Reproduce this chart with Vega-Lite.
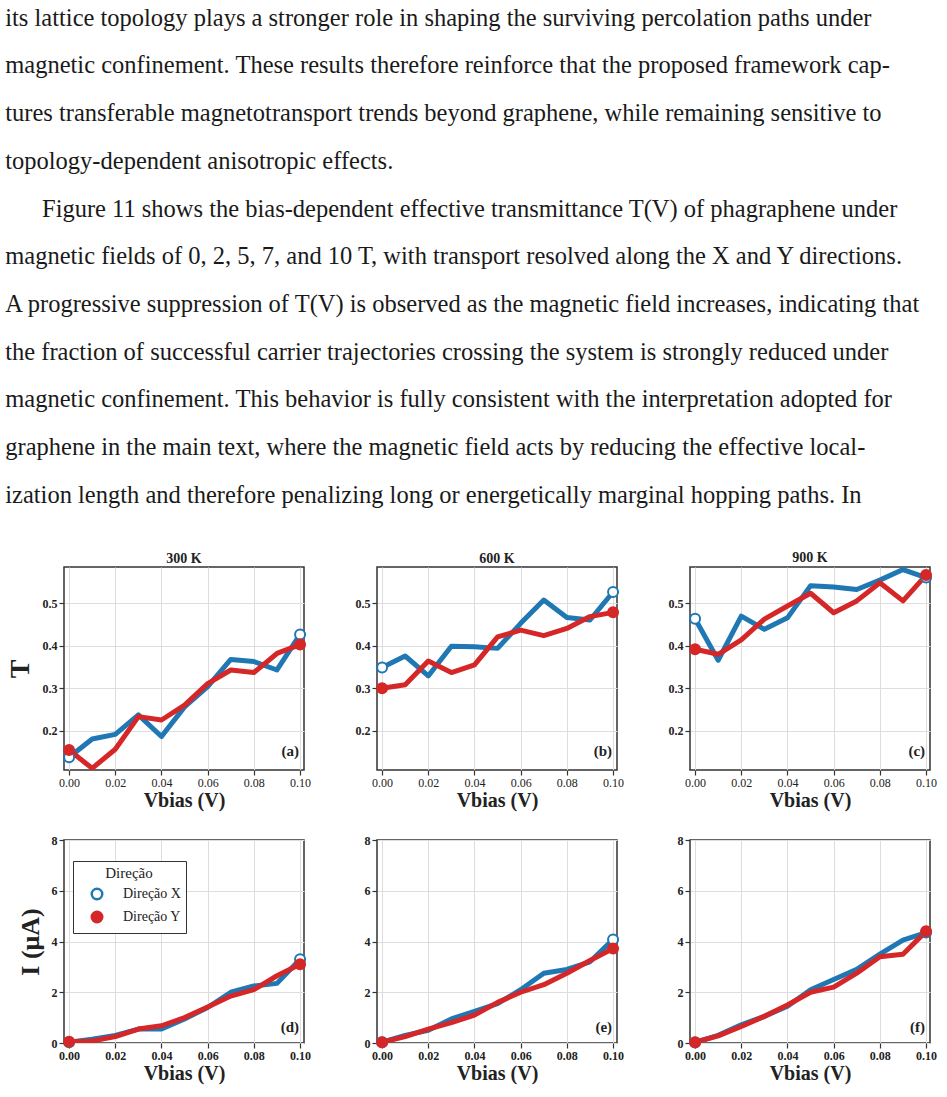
{
  "$schema": "https://vega.github.io/schema/vega-lite/v6.json",
  "background": "white",
  "padding": {"left": 5, "top": 5, "right": 5, "bottom": 5},
  "title": {
    "text": [
      "its lattice topology plays a stronger role in shaping the surviving percolation paths under",
      "magnetic confinement.  These results therefore reinforce that the proposed framework cap-",
      "tures transferable magnetotransport trends beyond graphene, while remaining sensitive to",
      "topology-dependent anisotropic effects.",
      "\u200b\u2003\u00a0\u00a0Figure 11 shows the bias-dependent effective transmittance T(V) of phagraphene under",
      "magnetic fields of 0, 2, 5, 7, and 10 T, with transport resolved along the X and Y directions.",
      "A progressive suppression of T(V) is observed as the magnetic field increases, indicating that",
      "the fraction of successful carrier trajectories crossing the system is strongly reduced under",
      "magnetic confinement. This behavior is fully consistent with the interpretation adopted for",
      "graphene in the main text, where the magnetic field acts by reducing the effective local-",
      "ization length and therefore penalizing long or energetically marginal hopping paths.  In"
    ],
    "anchor": "start",
    "frame": "bounds",
    "font": "Liberation Serif",
    "fontSize": 24.5,
    "fontWeight": "normal",
    "lineHeight": 47.7,
    "color": "#1a1a1a",
    "offset": 42
  },
  "config": {
    "font": "Liberation Serif",
    "view": {"stroke": "#333", "strokeWidth": 1.5},
    "axis": {
      "labelFont": "Liberation Serif",
      "titleFont": "Liberation Serif",
      "labelColor": "#222",
      "titleColor": "#222",
      "gridColor": "#dddddd",
      "gridWidth": 1,
      "domain": false,
      "tickColor": "#333",
      "tickSize": 5,
      "tickWidth": 1.2,
      "labelFontSize": 12,
      "labelFontWeight": "bold",
      "titleFontWeight": "bold",
      "labelPadding": 2
    },
    "title": {"font": "Liberation Serif", "fontSize": 14, "fontWeight": "bold", "color": "#222", "offset": 1},
    "legend": {"labelFont": "Liberation Serif", "titleFont": "Liberation Serif"}
  },
  "datasets": {
    "pts": [
      {"panel": "a", "dir": "Direção X", "v": 0, "val": 0.137},
      {"panel": "a", "dir": "Direção X", "v": 0.01, "val": 0.180},
      {"panel": "a", "dir": "Direção X", "v": 0.02, "val": 0.191},
      {"panel": "a", "dir": "Direção X", "v": 0.03, "val": 0.237},
      {"panel": "a", "dir": "Direção X", "v": 0.04, "val": 0.186},
      {"panel": "a", "dir": "Direção X", "v": 0.05, "val": 0.256},
      {"panel": "a", "dir": "Direção X", "v": 0.06, "val": 0.304},
      {"panel": "a", "dir": "Direção X", "v": 0.07, "val": 0.368},
      {"panel": "a", "dir": "Direção X", "v": 0.08, "val": 0.363},
      {"panel": "a", "dir": "Direção X", "v": 0.09, "val": 0.343},
      {"panel": "a", "dir": "Direção X", "v": 0.1, "val": 0.427},
      {"panel": "a", "dir": "Direção Y", "v": 0, "val": 0.154},
      {"panel": "a", "dir": "Direção Y", "v": 0.01, "val": 0.111},
      {"panel": "a", "dir": "Direção Y", "v": 0.02, "val": 0.156},
      {"panel": "a", "dir": "Direção Y", "v": 0.03, "val": 0.233},
      {"panel": "a", "dir": "Direção Y", "v": 0.04, "val": 0.225},
      {"panel": "a", "dir": "Direção Y", "v": 0.05, "val": 0.260},
      {"panel": "a", "dir": "Direção Y", "v": 0.06, "val": 0.311},
      {"panel": "a", "dir": "Direção Y", "v": 0.07, "val": 0.343},
      {"panel": "a", "dir": "Direção Y", "v": 0.08, "val": 0.337},
      {"panel": "a", "dir": "Direção Y", "v": 0.09, "val": 0.382},
      {"panel": "a", "dir": "Direção Y", "v": 0.1, "val": 0.403},
      {"panel": "b", "dir": "Direção X", "v": 0, "val": 0.349},
      {"panel": "b", "dir": "Direção X", "v": 0.01, "val": 0.376},
      {"panel": "b", "dir": "Direção X", "v": 0.02, "val": 0.329},
      {"panel": "b", "dir": "Direção X", "v": 0.03, "val": 0.399},
      {"panel": "b", "dir": "Direção X", "v": 0.04, "val": 0.398},
      {"panel": "b", "dir": "Direção X", "v": 0.05, "val": 0.394},
      {"panel": "b", "dir": "Direção X", "v": 0.06, "val": 0.453},
      {"panel": "b", "dir": "Direção X", "v": 0.07, "val": 0.508},
      {"panel": "b", "dir": "Direção X", "v": 0.08, "val": 0.467},
      {"panel": "b", "dir": "Direção X", "v": 0.09, "val": 0.461},
      {"panel": "b", "dir": "Direção X", "v": 0.1, "val": 0.527},
      {"panel": "b", "dir": "Direção Y", "v": 0, "val": 0.300},
      {"panel": "b", "dir": "Direção Y", "v": 0.01, "val": 0.308},
      {"panel": "b", "dir": "Direção Y", "v": 0.02, "val": 0.364},
      {"panel": "b", "dir": "Direção Y", "v": 0.03, "val": 0.337},
      {"panel": "b", "dir": "Direção Y", "v": 0.04, "val": 0.355},
      {"panel": "b", "dir": "Direção Y", "v": 0.05, "val": 0.421},
      {"panel": "b", "dir": "Direção Y", "v": 0.06, "val": 0.437},
      {"panel": "b", "dir": "Direção Y", "v": 0.07, "val": 0.424},
      {"panel": "b", "dir": "Direção Y", "v": 0.08, "val": 0.441},
      {"panel": "b", "dir": "Direção Y", "v": 0.09, "val": 0.469},
      {"panel": "b", "dir": "Direção Y", "v": 0.1, "val": 0.479},
      {"panel": "c", "dir": "Direção X", "v": 0, "val": 0.464},
      {"panel": "c", "dir": "Direção X", "v": 0.01, "val": 0.366},
      {"panel": "c", "dir": "Direção X", "v": 0.02, "val": 0.470},
      {"panel": "c", "dir": "Direção X", "v": 0.03, "val": 0.439},
      {"panel": "c", "dir": "Direção X", "v": 0.04, "val": 0.466},
      {"panel": "c", "dir": "Direção X", "v": 0.05, "val": 0.542},
      {"panel": "c", "dir": "Direção X", "v": 0.06, "val": 0.539},
      {"panel": "c", "dir": "Direção X", "v": 0.07, "val": 0.533},
      {"panel": "c", "dir": "Direção X", "v": 0.08, "val": 0.555},
      {"panel": "c", "dir": "Direção X", "v": 0.09, "val": 0.580},
      {"panel": "c", "dir": "Direção X", "v": 0.1, "val": 0.561},
      {"panel": "c", "dir": "Direção Y", "v": 0, "val": 0.392},
      {"panel": "c", "dir": "Direção Y", "v": 0.01, "val": 0.380},
      {"panel": "c", "dir": "Direção Y", "v": 0.02, "val": 0.414},
      {"panel": "c", "dir": "Direção Y", "v": 0.03, "val": 0.463},
      {"panel": "c", "dir": "Direção Y", "v": 0.04, "val": 0.494},
      {"panel": "c", "dir": "Direção Y", "v": 0.05, "val": 0.524},
      {"panel": "c", "dir": "Direção Y", "v": 0.06, "val": 0.478},
      {"panel": "c", "dir": "Direção Y", "v": 0.07, "val": 0.506},
      {"panel": "c", "dir": "Direção Y", "v": 0.08, "val": 0.549},
      {"panel": "c", "dir": "Direção Y", "v": 0.09, "val": 0.506},
      {"panel": "c", "dir": "Direção Y", "v": 0.1, "val": 0.567},
      {"panel": "d", "dir": "Direção X", "v": 0, "val": 0.03},
      {"panel": "d", "dir": "Direção X", "v": 0.01, "val": 0.15},
      {"panel": "d", "dir": "Direção X", "v": 0.02, "val": 0.30},
      {"panel": "d", "dir": "Direção X", "v": 0.03, "val": 0.55},
      {"panel": "d", "dir": "Direção X", "v": 0.04, "val": 0.55},
      {"panel": "d", "dir": "Direção X", "v": 0.05, "val": 0.95},
      {"panel": "d", "dir": "Direção X", "v": 0.06, "val": 1.40},
      {"panel": "d", "dir": "Direção X", "v": 0.07, "val": 2.00},
      {"panel": "d", "dir": "Direção X", "v": 0.08, "val": 2.25},
      {"panel": "d", "dir": "Direção X", "v": 0.09, "val": 2.35},
      {"panel": "d", "dir": "Direção X", "v": 0.1, "val": 3.30},
      {"panel": "d", "dir": "Direção Y", "v": 0, "val": 0.05},
      {"panel": "d", "dir": "Direção Y", "v": 0.01, "val": 0.08},
      {"panel": "d", "dir": "Direção Y", "v": 0.02, "val": 0.25},
      {"panel": "d", "dir": "Direção Y", "v": 0.03, "val": 0.55},
      {"panel": "d", "dir": "Direção Y", "v": 0.04, "val": 0.68},
      {"panel": "d", "dir": "Direção Y", "v": 0.05, "val": 1.00},
      {"panel": "d", "dir": "Direção Y", "v": 0.06, "val": 1.42},
      {"panel": "d", "dir": "Direção Y", "v": 0.07, "val": 1.85},
      {"panel": "d", "dir": "Direção Y", "v": 0.08, "val": 2.10},
      {"panel": "d", "dir": "Direção Y", "v": 0.09, "val": 2.65},
      {"panel": "d", "dir": "Direção Y", "v": 0.1, "val": 3.10},
      {"panel": "e", "dir": "Direção X", "v": 0, "val": 0.03},
      {"panel": "e", "dir": "Direção X", "v": 0.01, "val": 0.30},
      {"panel": "e", "dir": "Direção X", "v": 0.02, "val": 0.50},
      {"panel": "e", "dir": "Direção X", "v": 0.03, "val": 0.95},
      {"panel": "e", "dir": "Direção X", "v": 0.04, "val": 1.25},
      {"panel": "e", "dir": "Direção X", "v": 0.05, "val": 1.55},
      {"panel": "e", "dir": "Direção X", "v": 0.06, "val": 2.10},
      {"panel": "e", "dir": "Direção X", "v": 0.07, "val": 2.75},
      {"panel": "e", "dir": "Direção X", "v": 0.08, "val": 2.90},
      {"panel": "e", "dir": "Direção X", "v": 0.09, "val": 3.20},
      {"panel": "e", "dir": "Direção X", "v": 0.1, "val": 4.08},
      {"panel": "e", "dir": "Direção Y", "v": 0, "val": 0.03},
      {"panel": "e", "dir": "Direção Y", "v": 0.01, "val": 0.25},
      {"panel": "e", "dir": "Direção Y", "v": 0.02, "val": 0.55},
      {"panel": "e", "dir": "Direção Y", "v": 0.03, "val": 0.80},
      {"panel": "e", "dir": "Direção Y", "v": 0.04, "val": 1.10},
      {"panel": "e", "dir": "Direção Y", "v": 0.05, "val": 1.60},
      {"panel": "e", "dir": "Direção Y", "v": 0.06, "val": 2.00},
      {"panel": "e", "dir": "Direção Y", "v": 0.07, "val": 2.30},
      {"panel": "e", "dir": "Direção Y", "v": 0.08, "val": 2.75},
      {"panel": "e", "dir": "Direção Y", "v": 0.09, "val": 3.25},
      {"panel": "e", "dir": "Direção Y", "v": 0.1, "val": 3.72},
      {"panel": "f", "dir": "Direção X", "v": 0, "val": 0.02},
      {"panel": "f", "dir": "Direção X", "v": 0.01, "val": 0.30},
      {"panel": "f", "dir": "Direção X", "v": 0.02, "val": 0.72},
      {"panel": "f", "dir": "Direção X", "v": 0.03, "val": 1.05},
      {"panel": "f", "dir": "Direção X", "v": 0.04, "val": 1.45},
      {"panel": "f", "dir": "Direção X", "v": 0.05, "val": 2.10},
      {"panel": "f", "dir": "Direção X", "v": 0.06, "val": 2.50},
      {"panel": "f", "dir": "Direção X", "v": 0.07, "val": 2.90},
      {"panel": "f", "dir": "Direção X", "v": 0.08, "val": 3.50},
      {"panel": "f", "dir": "Direção X", "v": 0.09, "val": 4.05},
      {"panel": "f", "dir": "Direção X", "v": 0.1, "val": 4.35},
      {"panel": "f", "dir": "Direção Y", "v": 0, "val": 0.03},
      {"panel": "f", "dir": "Direção Y", "v": 0.01, "val": 0.28},
      {"panel": "f", "dir": "Direção Y", "v": 0.02, "val": 0.65},
      {"panel": "f", "dir": "Direção Y", "v": 0.03, "val": 1.05},
      {"panel": "f", "dir": "Direção Y", "v": 0.04, "val": 1.50},
      {"panel": "f", "dir": "Direção Y", "v": 0.05, "val": 2.00},
      {"panel": "f", "dir": "Direção Y", "v": 0.06, "val": 2.20},
      {"panel": "f", "dir": "Direção Y", "v": 0.07, "val": 2.75},
      {"panel": "f", "dir": "Direção Y", "v": 0.08, "val": 3.40},
      {"panel": "f", "dir": "Direção Y", "v": 0.09, "val": 3.50},
      {"panel": "f", "dir": "Direção Y", "v": 0.1, "val": 4.40}
    ]
  },
  "resolve": {"scale": {"stroke": "independent", "fill": "independent"}, "legend": {"stroke": "independent", "fill": "independent"}},
  "spacing": 22,
  "vconcat": [
    {
      "hconcat": [
        {
          "width": 240, "height": 203,
          "title": "300 K",
          "data": {"name": "pts"},
          "transform": [{"filter": "datum.panel == 'a'"}],
          "layer": [
            {"mark": {"type": "line", "strokeWidth": 5, "strokeJoin": "round", "strokeCap": "round", "clip": true},
             "encoding": {
               "x": {"field": "v", "type": "quantitative", "scale": {"domain": [-0.0022, 0.1017], "nice": false, "zero": false}, "axis": {"values": [0, 0.02, 0.04, 0.06, 0.08, 0.1], "format": ".2f", "labelFontWeight": "normal", "title": "Vbias (V)", "titleFontSize": 20, "titlePadding": 2}},
               "y": {"field": "val", "type": "quantitative", "scale": {"domain": [0.107, 0.586], "nice": false, "zero": false}, "axis": {"values": [0.2, 0.3, 0.4, 0.5], "format": ".1f", "title": "T", "titleFontSize": 28, "titlePadding": 8}},
               "stroke": {"field": "dir", "type": "nominal", "scale": {"domain": ["Direção X", "Direção Y"], "range": ["#1f77b4", "#d62728"]}, "legend": null}}},
            {"transform": [{"filter": "datum.v == 0 || datum.v == 0.1"}],
             "mark": {"type": "point", "size": 100, "strokeWidth": 2, "opacity": 1, "filled": false},
             "encoding": {
               "x": {"field": "v", "type": "quantitative"},
               "y": {"field": "val", "type": "quantitative"},
               "stroke": {"field": "dir", "type": "nominal", "scale": {"domain": ["Direção X", "Direção Y"], "range": ["#1f77b4", "#d62728"]}, "legend": null},
               "fill": {"field": "dir", "type": "nominal", "scale": {"domain": ["Direção X", "Direção Y"], "range": ["white", "#d62728"]}, "legend": null}}},
            {"data": {"values": [{"label": "(a)"}]},
             "mark": {"type": "text", "align": "right", "baseline": "middle", "fontSize": 15, "fontWeight": "bold", "color": "#222", "dx": -1},
             "encoding": {"text": {"field": "label"}, "x": {"datum": 0.1}, "y": {"datum": 0.152}}}
          ]
        },
        {
          "width": 240, "height": 203,
          "title": "600 K",
          "data": {"name": "pts"},
          "transform": [{"filter": "datum.panel == 'b'"}],
          "layer": [
            {"mark": {"type": "line", "strokeWidth": 5, "strokeJoin": "round", "strokeCap": "round", "clip": true},
             "encoding": {
               "x": {"field": "v", "type": "quantitative", "scale": {"domain": [-0.0022, 0.1017], "nice": false, "zero": false}, "axis": {"values": [0, 0.02, 0.04, 0.06, 0.08, 0.1], "format": ".2f", "labelFontWeight": "normal", "title": "Vbias (V)", "titleFontSize": 20, "titlePadding": 2}},
               "y": {"field": "val", "type": "quantitative", "scale": {"domain": [0.107, 0.586], "nice": false, "zero": false}, "axis": {"values": [0.2, 0.3, 0.4, 0.5], "format": ".1f", "title": null}},
               "stroke": {"field": "dir", "type": "nominal", "scale": {"domain": ["Direção X", "Direção Y"], "range": ["#1f77b4", "#d62728"]}, "legend": null}}},
            {"transform": [{"filter": "datum.v == 0 || datum.v == 0.1"}],
             "mark": {"type": "point", "size": 100, "strokeWidth": 2, "opacity": 1, "filled": false},
             "encoding": {
               "x": {"field": "v", "type": "quantitative"},
               "y": {"field": "val", "type": "quantitative"},
               "stroke": {"field": "dir", "type": "nominal", "scale": {"domain": ["Direção X", "Direção Y"], "range": ["#1f77b4", "#d62728"]}, "legend": null},
               "fill": {"field": "dir", "type": "nominal", "scale": {"domain": ["Direção X", "Direção Y"], "range": ["white", "#d62728"]}, "legend": null}}},
            {"data": {"values": [{"label": "(b)"}]},
             "mark": {"type": "text", "align": "right", "baseline": "middle", "fontSize": 15, "fontWeight": "bold", "color": "#222", "dx": -1},
             "encoding": {"text": {"field": "label"}, "x": {"datum": 0.1}, "y": {"datum": 0.152}}}
          ]
        },
        {
          "width": 240, "height": 203,
          "title": "900 K",
          "data": {"name": "pts"},
          "transform": [{"filter": "datum.panel == 'c'"}],
          "layer": [
            {"mark": {"type": "line", "strokeWidth": 5, "strokeJoin": "round", "strokeCap": "round", "clip": true},
             "encoding": {
               "x": {"field": "v", "type": "quantitative", "scale": {"domain": [-0.0022, 0.1017], "nice": false, "zero": false}, "axis": {"values": [0, 0.02, 0.04, 0.06, 0.08, 0.1], "format": ".2f", "labelFontWeight": "normal", "title": "Vbias (V)", "titleFontSize": 20, "titlePadding": 2}},
               "y": {"field": "val", "type": "quantitative", "scale": {"domain": [0.107, 0.586], "nice": false, "zero": false}, "axis": {"values": [0.2, 0.3, 0.4, 0.5], "format": ".1f", "title": null}},
               "stroke": {"field": "dir", "type": "nominal", "scale": {"domain": ["Direção X", "Direção Y"], "range": ["#1f77b4", "#d62728"]}, "legend": null}}},
            {"transform": [{"filter": "datum.v == 0 || datum.v == 0.1"}],
             "mark": {"type": "point", "size": 100, "strokeWidth": 2, "opacity": 1, "filled": false},
             "encoding": {
               "x": {"field": "v", "type": "quantitative"},
               "y": {"field": "val", "type": "quantitative"},
               "stroke": {"field": "dir", "type": "nominal", "scale": {"domain": ["Direção X", "Direção Y"], "range": ["#1f77b4", "#d62728"]}, "legend": null},
               "fill": {"field": "dir", "type": "nominal", "scale": {"domain": ["Direção X", "Direção Y"], "range": ["white", "#d62728"]}, "legend": null}}},
            {"data": {"values": [{"label": "(c)"}]},
             "mark": {"type": "text", "align": "right", "baseline": "middle", "fontSize": 15, "fontWeight": "bold", "color": "#222", "dx": -1},
             "encoding": {"text": {"field": "label"}, "x": {"datum": 0.1}, "y": {"datum": 0.152}}}
          ]
        }
      ],
      "spacing": 42,
      "resolve": {"scale": {"stroke": "independent", "fill": "independent"}, "legend": {"stroke": "independent", "fill": "independent"}}
    },
    {
      "hconcat": [
        {
          "width": 240, "height": 203,
          "data": {"name": "pts"},
          "transform": [{"filter": "datum.panel == 'd'"}],
          "layer": [
            {"mark": {"type": "line", "strokeWidth": 5, "strokeJoin": "round", "strokeCap": "round", "clip": true},
             "encoding": {
               "x": {"field": "v", "type": "quantitative", "scale": {"domain": [-0.0022, 0.1017], "nice": false, "zero": false}, "axis": {"values": [0, 0.02, 0.04, 0.06, 0.08, 0.1], "format": ".2f", "title": "Vbias (V)", "titleFontSize": 20, "titlePadding": 2}},
               "y": {"field": "val", "type": "quantitative", "scale": {"domain": [0, 8], "nice": false, "zero": false}, "axis": {"values": [0, 2, 4, 6, 8], "format": "d", "title": "I (μA)", "titleFontSize": 26, "titlePadding": 8}},
               "stroke": {"field": "dir", "type": "nominal", "title": "Direção", "scale": {"domain": ["Direção X", "Direção Y"], "range": ["#1f77b4", "#d62728"]},
                 "legend": {"orient": "none", "legendX": 9, "legendY": 21, "symbolType": "circle", "strokeColor": "#333", "fillColor": "white", "padding": 5, "cornerRadius": 0, "titleFontSize": 15, "titleFontWeight": "normal", "titleColor": "#222", "titleAnchor": "middle", "titlePadding": 6, "labelFontSize": 14, "labelColor": "#222", "labelOffset": 19, "symbolSize": 110, "symbolStrokeWidth": 2.5, "symbolOffset": 12, "rowPadding": 1}}}},
            {"transform": [{"filter": "datum.v == 0 || datum.v == 0.1"}],
             "mark": {"type": "point", "size": 100, "strokeWidth": 2, "opacity": 1, "filled": false},
             "encoding": {
               "x": {"field": "v", "type": "quantitative"},
               "y": {"field": "val", "type": "quantitative"},
               "stroke": {"field": "dir", "type": "nominal", "title": "Direção", "scale": {"domain": ["Direção X", "Direção Y"], "range": ["#1f77b4", "#d62728"]},
                 "legend": {"orient": "none", "legendX": 9, "legendY": 21, "symbolType": "circle", "strokeColor": "#333", "fillColor": "white", "padding": 5, "cornerRadius": 0, "titleFontSize": 15, "titleFontWeight": "normal", "titleColor": "#222", "titleAnchor": "middle", "titlePadding": 6, "labelFontSize": 14, "labelColor": "#222", "labelOffset": 19, "symbolSize": 110, "symbolStrokeWidth": 2.5, "symbolOffset": 12, "rowPadding": 1}},
               "fill": {"field": "dir", "type": "nominal", "title": "Direção", "scale": {"domain": ["Direção X", "Direção Y"], "range": ["white", "#d62728"]},
                 "legend": {"orient": "none", "legendX": 9, "legendY": 21, "symbolType": "circle", "strokeColor": "#333", "fillColor": "white", "padding": 5, "cornerRadius": 0, "titleFontSize": 15, "titleFontWeight": "normal", "titleColor": "#222", "titleAnchor": "middle", "titlePadding": 6, "labelFontSize": 14, "labelColor": "#222", "labelOffset": 19, "symbolSize": 110, "symbolStrokeWidth": 2.5, "symbolOffset": 12, "rowPadding": 1}}}},
            {"data": {"values": [{"label": "(d)"}]},
             "mark": {"type": "text", "align": "right", "baseline": "middle", "fontSize": 15, "fontWeight": "bold", "color": "#222", "dx": -1},
             "encoding": {"text": {"field": "label"}, "x": {"datum": 0.1}, "y": {"datum": 0.63}}}
          ]
        },
        {
          "width": 240, "height": 203,
          "data": {"name": "pts"},
          "transform": [{"filter": "datum.panel == 'e'"}],
          "layer": [
            {"mark": {"type": "line", "strokeWidth": 5, "strokeJoin": "round", "strokeCap": "round", "clip": true},
             "encoding": {
               "x": {"field": "v", "type": "quantitative", "scale": {"domain": [-0.0022, 0.1017], "nice": false, "zero": false}, "axis": {"values": [0, 0.02, 0.04, 0.06, 0.08, 0.1], "format": ".2f", "title": "Vbias (V)", "titleFontSize": 20, "titlePadding": 2}},
               "y": {"field": "val", "type": "quantitative", "scale": {"domain": [0, 8], "nice": false, "zero": false}, "axis": {"values": [0, 2, 4, 6, 8], "format": "d", "title": null}},
               "stroke": {"field": "dir", "type": "nominal", "scale": {"domain": ["Direção X", "Direção Y"], "range": ["#1f77b4", "#d62728"]}, "legend": null}}},
            {"transform": [{"filter": "datum.v == 0 || datum.v == 0.1"}],
             "mark": {"type": "point", "size": 100, "strokeWidth": 2, "opacity": 1, "filled": false},
             "encoding": {
               "x": {"field": "v", "type": "quantitative"},
               "y": {"field": "val", "type": "quantitative"},
               "stroke": {"field": "dir", "type": "nominal", "scale": {"domain": ["Direção X", "Direção Y"], "range": ["#1f77b4", "#d62728"]}, "legend": null},
               "fill": {"field": "dir", "type": "nominal", "scale": {"domain": ["Direção X", "Direção Y"], "range": ["white", "#d62728"]}, "legend": null}}},
            {"data": {"values": [{"label": "(e)"}]},
             "mark": {"type": "text", "align": "right", "baseline": "middle", "fontSize": 15, "fontWeight": "bold", "color": "#222", "dx": -1},
             "encoding": {"text": {"field": "label"}, "x": {"datum": 0.1}, "y": {"datum": 0.63}}}
          ]
        },
        {
          "width": 240, "height": 203,
          "data": {"name": "pts"},
          "transform": [{"filter": "datum.panel == 'f'"}],
          "layer": [
            {"mark": {"type": "line", "strokeWidth": 5, "strokeJoin": "round", "strokeCap": "round", "clip": true},
             "encoding": {
               "x": {"field": "v", "type": "quantitative", "scale": {"domain": [-0.0022, 0.1017], "nice": false, "zero": false}, "axis": {"values": [0, 0.02, 0.04, 0.06, 0.08, 0.1], "format": ".2f", "title": "Vbias (V)", "titleFontSize": 20, "titlePadding": 2}},
               "y": {"field": "val", "type": "quantitative", "scale": {"domain": [0, 8], "nice": false, "zero": false}, "axis": {"values": [0, 2, 4, 6, 8], "format": "d", "title": null}},
               "stroke": {"field": "dir", "type": "nominal", "scale": {"domain": ["Direção X", "Direção Y"], "range": ["#1f77b4", "#d62728"]}, "legend": null}}},
            {"transform": [{"filter": "datum.v == 0 || datum.v == 0.1"}],
             "mark": {"type": "point", "size": 100, "strokeWidth": 2, "opacity": 1, "filled": false},
             "encoding": {
               "x": {"field": "v", "type": "quantitative"},
               "y": {"field": "val", "type": "quantitative"},
               "stroke": {"field": "dir", "type": "nominal", "scale": {"domain": ["Direção X", "Direção Y"], "range": ["#1f77b4", "#d62728"]}, "legend": null},
               "fill": {"field": "dir", "type": "nominal", "scale": {"domain": ["Direção X", "Direção Y"], "range": ["white", "#d62728"]}, "legend": null}}},
            {"data": {"values": [{"label": "(f)"}]},
             "mark": {"type": "text", "align": "right", "baseline": "middle", "fontSize": 15, "fontWeight": "bold", "color": "#222", "dx": -1},
             "encoding": {"text": {"field": "label"}, "x": {"datum": 0.1}, "y": {"datum": 0.63}}}
          ]
        }
      ],
      "spacing": 51,
      "resolve": {"scale": {"stroke": "independent", "fill": "independent"}, "legend": {"stroke": "independent", "fill": "independent"}}
    }
  ]
}
